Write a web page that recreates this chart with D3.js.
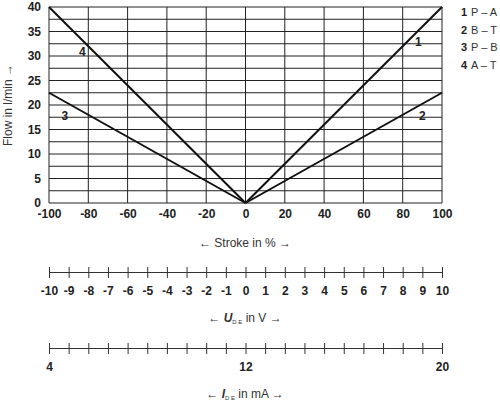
<!DOCTYPE html>
<html lang="en">
<head>
<meta charset="UTF-8">
<script src="https://d3js.org/d3.v7.min.js"></script>
<style>
  body { margin: 0; background: #fff; font-family: "Liberation Sans", Arial, sans-serif; }
  .tick text { font-weight: bold; font-size: 12px; fill: #222; }
  .lbl { font-size: 12px; fill: #333; }
</style>
</head>
<body>
<svg width="500" height="404"></svg>
<script>
// stroke in %, flow in l/min
const stroke = [-100, 0, 100];
const curves = [
  { id: "1", name: "P – A", flow: [null, 0, 40], lx: 88, ly: 32 },
  { id: "2", name: "B – T", flow: [null, 0, 22.5], lx: 90, ly: 17 },
  { id: "3", name: "P – B", flow: [22.5, 0, null], lx: -92, ly: 17 },
  { id: "4", name: "A – T", flow: [40, 0, null], lx: -83, ly: 30 }
];
const xTicks = d3.range(-100, 101, 20);
const yTicks = d3.range(0, 41, 5);
const yGrid = d3.range(0, 40.1, 2.5);
const uTicks = d3.range(-10, 11, 1);
const iTicks = d3.range(4, 20.1, 0.8);
const iLabels = [4, 12, 20];
const fmt = d => String(d); // hyphen-minus like the reference

const svg = d3.select("svg");
const x = d3.scaleLinear().domain([-100, 100]).range([49, 442]);
const y = d3.scaleLinear().domain([0, 40]).range([203, 7]);

const grid = svg.append("g").attr("stroke", "#222").attr("stroke-width", 1);
grid.selectAll(".h").data(yGrid).join("line")
  .attr("x1", x(-100)).attr("x2", x(100)).attr("y1", d => y(d)).attr("y2", d => y(d));
grid.selectAll(".v").data(xTicks).join("line")
  .attr("y1", y(0)).attr("y2", y(40)).attr("x1", d => x(d)).attr("x2", d => x(d));

svg.append("g").attr("transform", `translate(0,${y(0)})`)
  .call(d3.axisBottom(x).tickValues(xTicks).tickFormat(fmt).tickSize(0).tickPadding(6))
  .call(g => g.select(".domain").remove());
svg.append("g").attr("transform", `translate(${x(-100)},0)`)
  .call(d3.axisLeft(y).tickValues(yTicks).tickSize(0).tickPadding(8))
  .call(g => g.select(".domain").remove());

const line = d3.line().defined(d => d[1] != null).x(d => x(d[0])).y(d => y(d[1]));
curves.forEach(c => {
  svg.append("path").datum(stroke.map((s, i) => [s, c.flow[i]]))
    .attr("d", line).attr("fill", "none").attr("stroke", "#111").attr("stroke-width", 2);
  svg.append("text").attr("x", x(c.lx)).attr("y", y(c.ly)).attr("text-anchor", "middle")
    .attr("font-weight", "bold").attr("font-size", 12).attr("fill", "#222").text(c.id);
});

// legend
const leg = svg.append("g").selectAll("g").data(curves).join("g")
  .attr("transform", (d, i) => `translate(461,${16 + i * 17.5})`);
leg.append("text").attr("font-weight", "bold").attr("font-size", 11).attr("fill", "#222").text(d => d.id);
leg.append("text").attr("x", 10).attr("font-size", 11).attr("fill", "#333").text(d => d.name);

svg.append("text").attr("class", "lbl").attr("transform", "translate(12,105) rotate(-90)")
  .attr("text-anchor", "middle").text("Flow in l/min →");
svg.append("text").attr("class", "lbl").attr("x", 245).attr("y", 247).attr("text-anchor", "middle")
  .text("← Stroke in % →");

// U axis
const u = d3.scaleLinear().domain([-10, 10]).range([49, 442]);
svg.append("g").attr("transform", "translate(0,272)")
  .call(d3.axisBottom(u).tickValues(uTicks).tickFormat(fmt).tickSize(6).tickSizeOuter(0).tickPadding(8))
  .call(g => g.selectAll(".tick line").attr("y1", -5).attr("stroke", "#333"))
  .call(g => g.select(".domain").attr("stroke", "#333"));
const uLab = svg.append("text").attr("class", "lbl").attr("x", 245).attr("y", 322).attr("text-anchor", "middle");
uLab.append("tspan").text("← ");
uLab.append("tspan").attr("font-weight", "bold").attr("font-style", "italic").text("U");
uLab.append("tspan").attr("font-size", 6).attr("dy", 2).text("D E");
uLab.append("tspan").attr("dy", -2).text(" in V →");

// I axis
const iS = d3.scaleLinear().domain([4, 20]).range([49, 442]);
svg.append("g").attr("transform", "translate(0,348)")
  .call(d3.axisBottom(iS).tickValues(iTicks).tickSize(6).tickSizeOuter(0).tickPadding(8)
    .tickFormat(d => iLabels.some(v => Math.abs(v - d) < 1e-6) ? d3.format("d")(d) : ""))
  .call(g => g.selectAll(".tick line").attr("y1", -5).attr("stroke", "#333"))
  .call(g => g.select(".domain").attr("stroke", "#333"));
const iLab = svg.append("text").attr("class", "lbl").attr("x", 245).attr("y", 398).attr("text-anchor", "middle");
iLab.append("tspan").text("← ");
iLab.append("tspan").attr("font-weight", "bold").attr("font-style", "italic").text("I");
iLab.append("tspan").attr("font-size", 6).attr("dy", 2).text("D E");
iLab.append("tspan").attr("dy", -2).text(" in mA →");
</script>
</body>
</html>
